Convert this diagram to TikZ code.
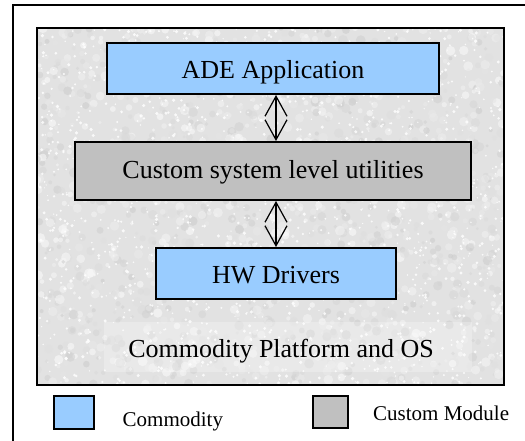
\documentclass[tikz,border=0pt]{standalone}
\usepackage{fontspec}
\setmainfont{Liberation Serif}
\newfontfamily\labelfont{Liberation Serif}
\usetikzlibrary{arrows.meta}

\definecolor{commodity}{HTML}{99CCFF}
\definecolor{custom}{HTML}{C0C0C0}
\definecolor{texbase}{HTML}{E2E2E2}

\tikzset{
  layerbox/.style={draw=black, line width=2pt, inner sep=0pt,
    font=\labelfont\fontsize{26}{31}\selectfont},
  commoditybox/.style={layerbox, fill=commodity},
  custombox/.style={layerbox, fill=custom},
  keybox/.style={draw=black, line width=2pt, inner sep=0pt},
  keytext/.style={font=\labelfont\fontsize{21}{25}\selectfont, inner sep=0pt, anchor=base west},
  biarrow/.style={line width=1.2pt,
    {Straight Barb[length=20pt,width=22pt]}-{Straight Barb[length=20pt,width=22pt]}},
}

\begin{document}
\begin{tikzpicture}[x=1pt,y=-1pt]
\useasboundingbox (0,0) rectangle (525,440);
\fill[white] (0,0) rectangle (525,440);

% page frame (only top and left edges are inside the picture)
\draw[line width=2pt] (12.5,441) -- (12.5,5) -- (526,5);

% mottled platform background
\pgfmathsetseed{4217}
\begin{scope}
  \clip (37,28) rectangle (504,385);
  \fill[texbase] (37,28) rectangle (504,385);
  \foreach \i in {1,...,1800}{
    \pgfmathsetmacro\px{37+467*rnd}
    \pgfmathsetmacro\py{28+357*rnd}
    \pgfmathsetmacro\sh{int(80+20*rnd)}
    \pgfmathsetmacro\rr{1.5+3.5*rnd}
    \fill[white!\sh!black, opacity=0.55] (\px,\py) circle[radius=\rr pt];
  }
  \foreach \i in {1,...,1500}{
    \pgfmathsetmacro\px{37+467*rnd}
    \pgfmathsetmacro\py{28+357*rnd}
    \pgfmathsetmacro\rr{0.6+1.2*rnd}
    \fill[white, opacity=0.8] (\px,\py) circle[radius=\rr pt];
  }
\end{scope}
\draw[line width=2pt] (37,28) rectangle (504,385);

% platform caption on its own lighter panel
\node[fill=white, fill opacity=0.25, inner sep=0pt,
      minimum width=368pt, minimum height=50pt] (plat) at (288,347) {};
\node[font=\labelfont\fontsize{26}{31}\selectfont, anchor=base, inner sep=0pt]
  (platlabel) at (281,357) {Commodity Platform and OS};

% software layers
\node[commoditybox, minimum width=332pt, minimum height=51pt,
      text height=19.5pt, text depth=0pt] (ade) at (273,68.5) {ADE Application};
\node[custombox, minimum width=396pt, minimum height=58pt,
      text height=15pt, text depth=0pt] (cust) at (273,171) {Custom system level utilities};
\node[commoditybox, minimum width=240pt, minimum height=51pt,
      text height=19.5pt, text depth=0pt] (hw) at (276,273.5) {HW Drivers};

% interfaces between layers
\draw[biarrow] (ade.south -| hw.north) -- (cust.north -| hw.north);
\draw[biarrow] (cust.south -| hw.north) -- (hw.north);

% legend
\node[keybox, fill=commodity, minimum width=40pt, minimum height=33pt] (keyc) at (74,412.5) {};
\node[keytext] (keyctext) at (122.5,426.5) {Commodity};
\node[keybox, fill=custom, minimum width=35pt, minimum height=32pt] (keym) at (330.5,412) {};
\node[keytext] (keymtext) at (373,420) {Custom Module};
\end{tikzpicture}
\end{document}
